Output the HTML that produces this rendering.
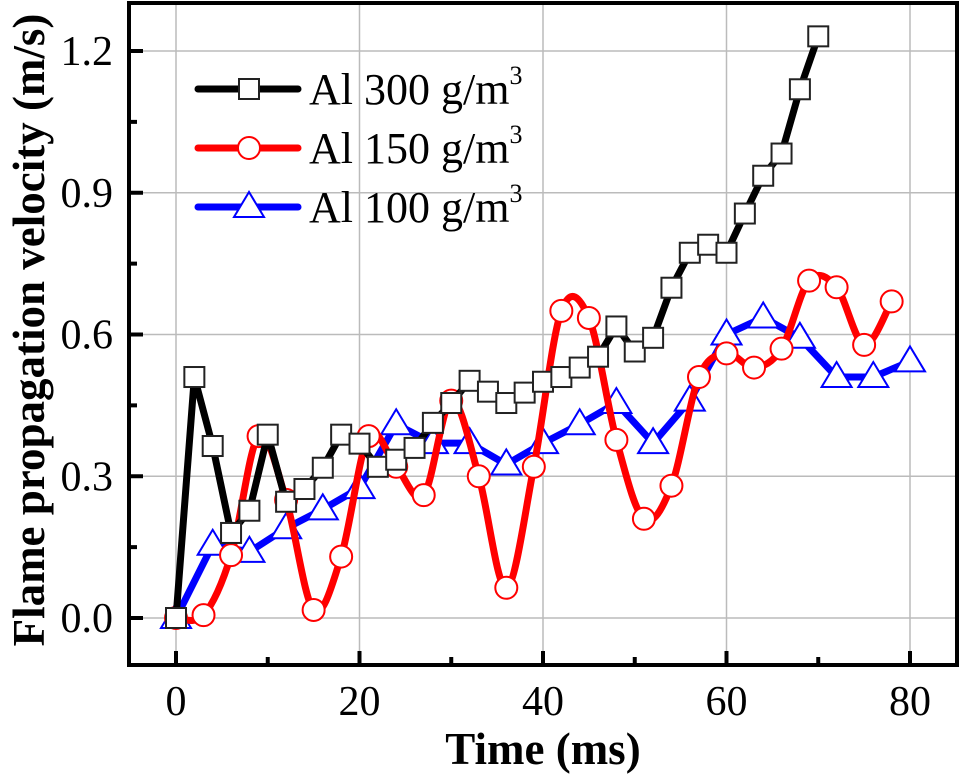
<!DOCTYPE html>
<html><head><meta charset="utf-8"><style>
body{margin:0;background:#fff}
svg text{font-family:"Liberation Serif",serif}
</style></head><body>
<svg id="chart" width="964" height="776" viewBox="0 0 964 776" xmlns="http://www.w3.org/2000/svg">
<g id="grid"></g>
<g id="series"></g>
<g id="axes"></g>
<g id="legend"></g>
<text x="543" y="764" font-size="45" font-weight="bold" text-anchor="middle">Time (ms)</text>
<text transform="translate(44,330) rotate(-90)" font-size="45" font-weight="bold" text-anchor="middle">Flame propagation velocity (m/s)</text>
</svg>
<script>
const xTicks=[0,20,40,60,80];
const yTicks=[0,0.3,0.6,0.9,1.2];
const yTickLabels=["0.0","0.3","0.6","0.9","1.2"];
const t300=[0,2,4,6,8,10,12,14,16,18,20,22,24,26,28,30,32,34,36,38,40,42,44,46,48,50,52,54,56,58,60,62,64,66,68,70];
const v300=[0,0.51,0.364,0.18,0.227,0.388,0.246,0.273,0.318,0.388,0.369,0.32,0.335,0.36,0.413,0.455,0.502,0.479,0.455,0.477,0.5,0.51,0.53,0.553,0.617,0.564,0.593,0.699,0.773,0.79,0.773,0.856,0.936,0.983,1.119,1.231];
const t150=[0,3,6,9,12,15,18,21,24,27,30,33,36,39,42,45,48,51,54,57,60,63,66,69,72,75,78];
const v150=[0,0.006,0.133,0.385,0.25,0.017,0.13,0.385,0.32,0.26,0.46,0.3,0.064,0.32,0.65,0.635,0.377,0.21,0.28,0.51,0.56,0.53,0.57,0.714,0.7,0.578,0.67];
const t100=[0,4,8,12,16,20,24,28,32,36,40,44,48,52,56,60,64,68,72,76,80];
const v100=[0,0.155,0.14,0.19,0.23,0.275,0.41,0.37,0.37,0.325,0.37,0.41,0.455,0.37,0.46,0.6,0.636,0.593,0.51,0.51,0.543];

const X=t=>176+t*9.175;
const Y=v=>618-v*472.5;
const NS="http://www.w3.org/2000/svg";
function mk(tag,attrs,parent){const e=document.createElementNS(NS,tag);for(const k in attrs)e.setAttribute(k,attrs[k]);parent.appendChild(e);return e;}
const grid=document.getElementById('grid'),axes=document.getElementById('axes'),ser=document.getElementById('series'),leg=document.getElementById('legend');
const L=129,R=957,T=3,B=665;
xTicks.forEach(t=>{const l=mk('line',{x1:X(t),x2:X(t),y1:T,y2:B,stroke:'#bbb','stroke-width':1.5},grid);

});
yTicks.forEach(v=>{const l=mk('line',{x1:L,x2:R,y1:Y(v),y2:Y(v),stroke:'#bbb','stroke-width':1.5},grid);

});
const fr=mk('rect',{x:L,y:T,width:R-L,height:B-T,fill:'none',stroke:'#000','stroke-width':4},axes);


xTicks.forEach(t=>{mk('line',{x1:X(t),x2:X(t),y1:B,y2:B-14,stroke:'#000','stroke-width':4},axes);
const tx=mk('text',{x:X(t),y:B+50,'font-size':42,'text-anchor':'middle'},axes);tx.textContent=t;

});
[10,30,50,70].forEach(t=>mk('line',{x1:X(t),x2:X(t),y1:B,y2:B-8,stroke:'#000','stroke-width':4},axes));
yTicks.forEach((v,i)=>{mk('line',{x1:L,x2:L+14,y1:Y(v),y2:Y(v),stroke:'#000','stroke-width':4},axes);
const tx=mk('text',{x:L-16,y:Y(v)+14,'font-size':42,'text-anchor':'end'},axes);tx.textContent=yTickLabels[i];

});
[0.15,0.45,0.75,1.05].forEach(v=>mk('line',{x1:L,x2:L+8,y1:Y(v),y2:Y(v),stroke:'#000','stroke-width':4},axes));

function spline(pts){let d=`M${pts[0][0]},${pts[0][1]}`;for(let i=0;i<pts.length-1;i++){const p0=pts[Math.max(0,i-1)],p1=pts[i],p2=pts[i+1],p3=pts[Math.min(pts.length-1,i+2)];
d+=` C${p1[0]+(p2[0]-p0[0])/6},${p1[1]+(p2[1]-p0[1])/6} ${p2[0]-(p3[0]-p1[0])/6},${p2[1]-(p3[1]-p1[1])/6} ${p2[0]},${p2[1]}`;}return d;}
function marker(type,x,y,col,g){let e;
if(type==='sq')e=mk('rect',{x:x-10,y:y-10,width:20,height:20,fill:'#fff',stroke:'#222','stroke-width':2},g);
else if(type==='ci')e=mk('circle',{cx:x,cy:y,r:11,fill:'#fff',stroke:col,'stroke-width':2},g);
else e=mk('polygon',{points:`${x},${y-15} ${x-15},${y+10} ${x+15},${y+10}`,fill:'#fff',stroke:col,'stroke-width':2},g);
return e;}
function draw(ts,vs,col,type,smooth,name){const g=mk('g',{},ser);


const pts=ts.map((t,i)=>[X(t),Y(vs[i])]);
mk('path',{d:smooth?spline(pts):'M'+pts.map(p=>p.join(',')).join(' L'),fill:'none',stroke:col,'stroke-width':7,'stroke-linejoin':'round'},g);
pts.forEach(p=>{const m=marker(type,p[0],p[1],col,g);

});}
draw(t100,v100,'#0000ff','tr',false,'series-al-100');
draw(t150,v150,'#ff0000','ci',true,'series-al-150');
draw(t300,v300,'#000','sq',false,'series-al-300');
const legItems=[['Al 300 g/m','#000','sq',89],['Al 150 g/m','#ff0000','ci',148],['Al 100 g/m','#0000ff','tr',207]];
legItems.forEach(it=>{const g=mk('g',{},leg);


mk('line',{x1:198,x2:298,y1:it[3],y2:it[3],stroke:it[1],'stroke-width':7,'stroke-linecap':'round'},g);
marker(it[2],249,it[3],it[1],g);
const tx=mk('text',{x:309,y:it[3]+15,'font-size':44},g);tx.textContent=it[0];
const s=mk('tspan',{dy:-20,'font-size':26},tx);s.textContent='3';});
</script>
</body></html>
